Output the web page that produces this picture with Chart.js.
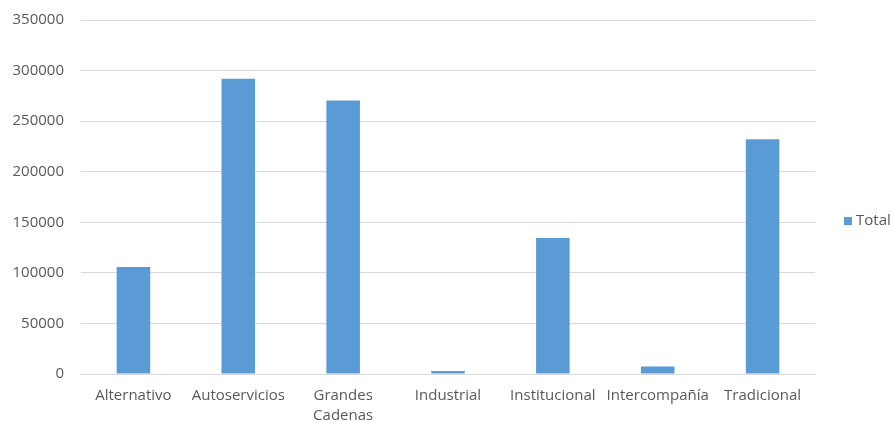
<!DOCTYPE html>
<html>
<head>
<meta charset="utf-8">
<script src="https://cdn.jsdelivr.net/npm/chart.js@4"></script>
<style>
  html, body { margin: 0; padding: 0; background: #ffffff; }
  #wrap { width: 894px; height: 423px; }
</style>
</head>
<body>
<div id="wrap"><canvas id="canal-chart" width="894" height="423"></canvas></div>
<script>
const categories = ['Alternativo', 'Autoservicios', ['Grandes', 'Cadenas'], 'Industrial', 'Institucional', 'Intercompañía', 'Tradicional'];
const totals = [105700, 291800, 270400, 3000, 134400, 7500, 232200];
const yTicks = [0, 50000, 100000, 150000, 200000, 250000, 300000, 350000];

const textColor = '#595959';
const gridColor = '#d9d9d9';
const barColor = '#5b9bd5';
const fontFamily = 'Open Sans';

// legend drawn by hand so it can sit in the right margin next to the plot
const sideLegend = {
    id: 'sideLegend',
    afterDraw(chart) {
        const c = chart.ctx;
        const ds = chart.data.datasets[0];
        const x = chart.chartArea.right + 29;
        const y = 221;
        c.save();
        c.fillStyle = ds.backgroundColor;
        c.fillRect(x, y - 4, 8, 8);
        c.fillStyle = textColor;
        c.font = '15px "' + fontFamily + '"';
        c.textBaseline = 'middle';
        c.textAlign = 'left';
        c.fillText(ds.label, x + 12, y);
        c.restore();
    }
};

const ctx = document.getElementById('canal-chart').getContext('2d');
new Chart(ctx, {
    type: 'bar',
    data: {
        labels: categories,
        datasets: [{
            label: 'Total',
            data: totals,
            backgroundColor: barColor,
            borderWidth: 0,
            categoryPercentage: 1,
            barPercentage: 0.32
        }]
    },
    options: {
        responsive: false,
        animation: false,
        layout: {
            padding: { top: 20, left: 12, right: 79, bottom: 0 }
        },
        plugins: {
            legend: { display: false },
            tooltip: { enabled: false }
        },
        scales: {
            x: {
                grid: { display: false },
                border: { display: true, color: gridColor, width: 1 },
                ticks: {
                    color: textColor,
                    font: { family: fontFamily, size: 15, lineHeight: 1.3 },
                    maxRotation: 0,
                    autoSkip: false,
                    padding: 4
                },
                afterFit: function(axis) {
                    axis.height = 49;
                    axis.paddingLeft = 0;
                    axis.paddingRight = 0;
                }
            },
            y: {
                min: yTicks[0],
                max: yTicks[yTicks.length - 1],
                afterBuildTicks: function(axis) {
                    axis.ticks = yTicks.map(v => ({ value: v }));
                },
                grid: { color: gridColor, drawTicks: false },
                border: { display: false },
                ticks: {
                    color: textColor,
                    font: { family: fontFamily, size: 15 },
                    padding: 17,
                    callback: function(value) {
                        return String(value);
                    }
                },
                afterFit: function(axis) {
                    axis.width = 69;
                    axis.paddingTop = 0;
                    axis.paddingBottom = 0;
                }
            }
        }
    },
    plugins: [sideLegend]
});
</script>
</body>
</html>
